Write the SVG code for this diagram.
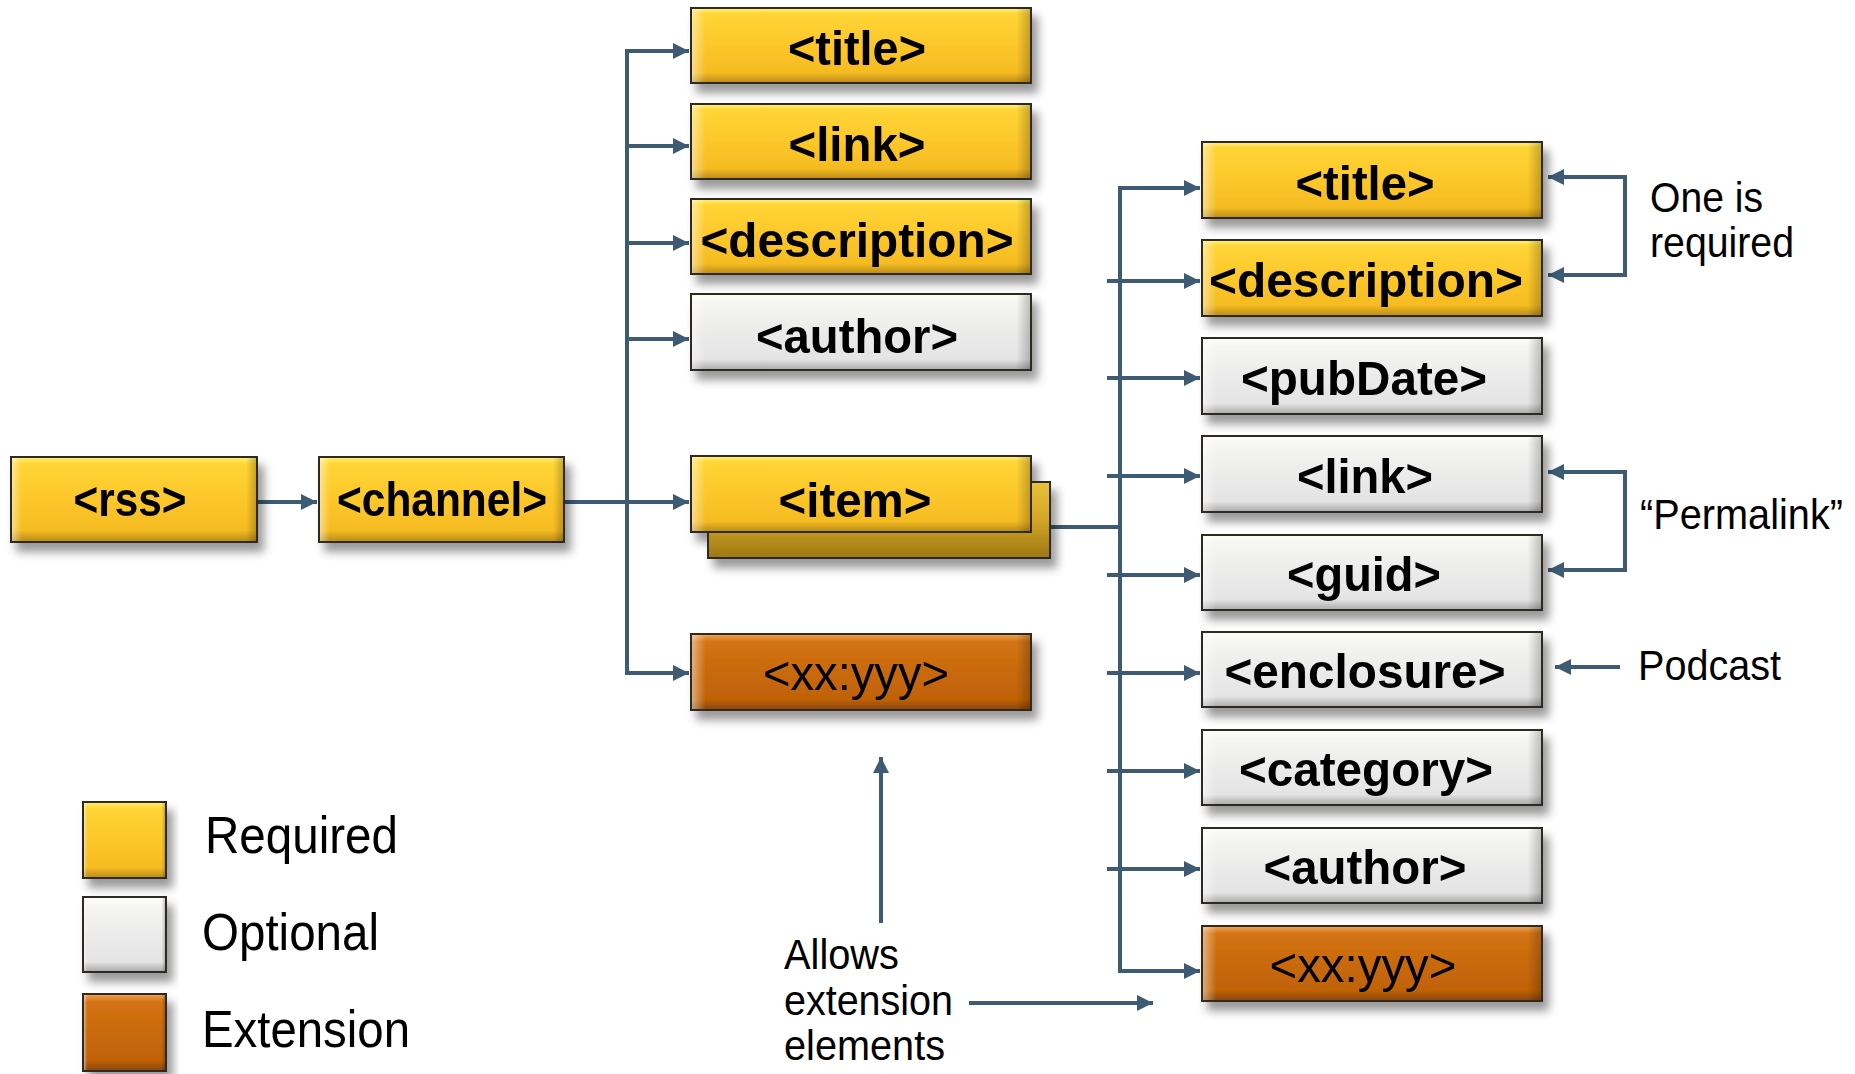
<svg xmlns="http://www.w3.org/2000/svg" width="1855" height="1074" viewBox="0 0 1855 1074">
<defs>
<linearGradient id="gY" x1="0" y1="0" x2="0" y2="1">
<stop offset="0" stop-color="#FFF27A"/><stop offset="0.08" stop-color="#FFD535"/><stop offset="0.5" stop-color="#FCC72A"/><stop offset="0.86" stop-color="#F5BC22"/><stop offset="1" stop-color="#B88A18"/>
</linearGradient>
<linearGradient id="gYb" x1="0" y1="0" x2="0" y2="1">
<stop offset="0" stop-color="#E8C23A"/><stop offset="0.5" stop-color="#D4A526"/><stop offset="1" stop-color="#9C7814"/>
</linearGradient>
<linearGradient id="gG" x1="0" y1="0" x2="0" y2="1">
<stop offset="0" stop-color="#FFFFFA"/><stop offset="0.1" stop-color="#F6F6F2"/><stop offset="0.5" stop-color="#EBEBEB"/><stop offset="0.86" stop-color="#E4E4E4"/><stop offset="1" stop-color="#A8A8A8"/>
</linearGradient>
<linearGradient id="gO" x1="0" y1="0" x2="0" y2="1">
<stop offset="0" stop-color="#F3A65A"/><stop offset="0.1" stop-color="#D47416"/><stop offset="0.5" stop-color="#C8690A"/><stop offset="0.86" stop-color="#C06206"/><stop offset="1" stop-color="#864508"/>
</linearGradient>
<linearGradient id="gSide" x1="0" y1="0" x2="1" y2="0">
<stop offset="0" stop-color="#FFFFFF" stop-opacity="0.45"/><stop offset="0.04" stop-color="#FFFFFF" stop-opacity="0"/><stop offset="0.96" stop-color="#000000" stop-opacity="0"/><stop offset="1" stop-color="#000000" stop-opacity="0.22"/>
</linearGradient>
<filter id="sh" x="-10%" y="-20%" width="125%" height="160%">
<feDropShadow dx="6" dy="9" stdDeviation="5" flood-color="#000" flood-opacity="0.4"/>
</filter>
<marker id="ah" markerUnits="userSpaceOnUse" markerWidth="16" markerHeight="16" refX="16" refY="8" orient="auto">
<path d="M0,0 L16,8 L0,16 z" fill="#3E5B74"/>
</marker>
<style>
.box{stroke:#2E2A22;stroke-width:2}
.req{fill:url(#gY)}
.opt{fill:url(#gG)}
.ext{fill:url(#gO)}
.side{fill:url(#gSide);stroke:none}
.lbl{font-family:"Liberation Sans",Arial,sans-serif;font-weight:bold;font-size:48px;fill:#000;text-anchor:middle}
.lblx{font-family:"Liberation Sans",Arial,sans-serif;font-weight:normal;font-size:48px;fill:#000;text-anchor:middle}
.ann{font-family:"Liberation Sans",Arial,sans-serif;font-size:42px;fill:#000}
.leg{font-family:"Liberation Sans",Arial,sans-serif;font-size:52px;fill:#000}
.ln{fill:none;stroke:#3E5B74;stroke-width:4}
.ar{fill:none;stroke:#3E5B74;stroke-width:4;marker-end:url(#ah)}
</style>
</defs>
<rect width="1855" height="1074" fill="#FFFFFF"/>

<g id="connectors">
<path class="ar" d="M257,502 H317"/>
<path class="ln" d="M564,502 H627"/>
<path class="ln" d="M627,51 V673"/>
<path class="ar" d="M625,51 H689"/>
<path class="ar" d="M627,146 H689"/>
<path class="ar" d="M627,243 H689"/>
<path class="ar" d="M627,339 H689"/>
<path class="ar" d="M627,502 H689"/>
<path class="ar" d="M625,673 H689"/>
<path class="ln" d="M1050,527 H1120"/>
<path class="ln" d="M1120,188 V971"/>
<path class="ar" d="M1118,188 H1200"/>
<path class="ar" d="M1107,281 H1200"/>
<path class="ar" d="M1107,378 H1200"/>
<path class="ar" d="M1107,476 H1200"/>
<path class="ar" d="M1107,575 H1200"/>
<path class="ar" d="M1107,673 H1200"/>
<path class="ar" d="M1107,771 H1200"/>
<path class="ar" d="M1107,869 H1200"/>
<path class="ar" d="M1118,971 H1200"/>
<path class="ln" d="M1625,175 V277"/>
<path class="ar" d="M1627,177 H1548"/>
<path class="ar" d="M1627,275 H1548"/>
<path class="ln" d="M1625,470 V572"/>
<path class="ar" d="M1627,472 H1548"/>
<path class="ar" d="M1627,570 H1548"/>
<path class="ar" d="M1620,667 H1555"/>
<path class="ar" d="M881,923 V757"/>
<path class="ar" d="M969,1003 H1153"/>
</g>

<g id="rss" filter="url(#sh)">
<rect class="box req" x="11" y="457" width="246" height="85"/><rect class="side" x="12" y="458" width="244" height="83"/>
<text class="lbl" x="130" y="516" textLength="113" lengthAdjust="spacingAndGlyphs">&lt;rss&gt;</text>
</g>
<g id="channel" filter="url(#sh)">
<rect class="box req" x="319" y="457" width="245" height="85"/><rect class="side" x="320" y="458" width="243" height="83"/>
<text class="lbl" x="442" y="516" textLength="210" lengthAdjust="spacingAndGlyphs">&lt;channel&gt;</text>
</g>

<g id="ch-title" filter="url(#sh)">
<rect class="box req" x="691" y="8" width="340" height="75"/><rect class="side" x="692" y="9" width="338" height="73"/>
<text class="lbl" x="857" y="65" textLength="138" lengthAdjust="spacingAndGlyphs">&lt;title&gt;</text>
</g>
<g id="ch-link" filter="url(#sh)">
<rect class="box req" x="691" y="104" width="340" height="75"/><rect class="side" x="692" y="105" width="338" height="73"/>
<text class="lbl" x="857" y="161" textLength="137" lengthAdjust="spacingAndGlyphs">&lt;link&gt;</text>
</g>
<g id="ch-description" filter="url(#sh)">
<rect class="box req" x="691" y="199" width="340" height="75"/><rect class="side" x="692" y="200" width="338" height="73"/>
<text class="lbl" x="857" y="257" textLength="313" lengthAdjust="spacingAndGlyphs">&lt;description&gt;</text>
</g>
<g id="ch-author" filter="url(#sh)">
<rect class="box opt" x="691" y="294" width="340" height="76"/><rect class="side" x="692" y="295" width="338" height="74"/>
<text class="lbl" x="857" y="353" textLength="202" lengthAdjust="spacingAndGlyphs">&lt;author&gt;</text>
</g>
<g id="ch-item" filter="url(#sh)">
<rect class="box" fill="url(#gYb)" x="708" y="482" width="342" height="76"/>
<rect class="box req" x="691" y="456" width="340" height="76"/><rect class="side" x="692" y="457" width="338" height="74"/>
<text class="lbl" x="855" y="517" textLength="153" lengthAdjust="spacingAndGlyphs">&lt;item&gt;</text>
</g>
<g id="ch-ext" filter="url(#sh)">
<rect class="box ext" x="691" y="634" width="340" height="76"/><rect class="side" x="692" y="635" width="338" height="74"/>
<text class="lblx" x="856" y="690" textLength="186" lengthAdjust="spacingAndGlyphs">&lt;xx:yyy&gt;</text>
</g>

<g id="it-title" filter="url(#sh)">
<rect class="box req" x="1202" y="142" width="340" height="76"/><rect class="side" x="1203" y="143" width="338" height="74"/>
<text class="lbl" x="1365" y="200" textLength="139" lengthAdjust="spacingAndGlyphs">&lt;title&gt;</text>
</g>
<g id="it-description" filter="url(#sh)">
<rect class="box req" x="1202" y="240" width="340" height="76"/><rect class="side" x="1203" y="241" width="338" height="74"/>
<text class="lbl" x="1366" y="297" textLength="314" lengthAdjust="spacingAndGlyphs">&lt;description&gt;</text>
</g>
<g id="it-pubDate" filter="url(#sh)">
<rect class="box opt" x="1202" y="338" width="340" height="76"/><rect class="side" x="1203" y="339" width="338" height="74"/>
<text class="lbl" x="1364" y="395" textLength="246" lengthAdjust="spacingAndGlyphs">&lt;pubDate&gt;</text>
</g>
<g id="it-link" filter="url(#sh)">
<rect class="box opt" x="1202" y="436" width="340" height="76"/><rect class="side" x="1203" y="437" width="338" height="74"/>
<text class="lbl" x="1365" y="493" textLength="136" lengthAdjust="spacingAndGlyphs">&lt;link&gt;</text>
</g>
<g id="it-guid" filter="url(#sh)">
<rect class="box opt" x="1202" y="535" width="340" height="75"/><rect class="side" x="1203" y="536" width="338" height="73"/>
<text class="lbl" x="1364" y="591" textLength="154" lengthAdjust="spacingAndGlyphs">&lt;guid&gt;</text>
</g>
<g id="it-enclosure" filter="url(#sh)">
<rect class="box opt" x="1202" y="632" width="340" height="75"/><rect class="side" x="1203" y="633" width="338" height="73"/>
<text class="lbl" x="1365" y="688" textLength="281" lengthAdjust="spacingAndGlyphs">&lt;enclosure&gt;</text>
</g>
<g id="it-category" filter="url(#sh)">
<rect class="box opt" x="1202" y="730" width="340" height="75"/><rect class="side" x="1203" y="731" width="338" height="73"/>
<text class="lbl" x="1366" y="786" textLength="254" lengthAdjust="spacingAndGlyphs">&lt;category&gt;</text>
</g>
<g id="it-author" filter="url(#sh)">
<rect class="box opt" x="1202" y="828" width="340" height="75"/><rect class="side" x="1203" y="829" width="338" height="73"/>
<text class="lbl" x="1365" y="884" textLength="203" lengthAdjust="spacingAndGlyphs">&lt;author&gt;</text>
</g>
<g id="it-ext" filter="url(#sh)">
<rect class="box ext" x="1202" y="926" width="340" height="75"/><rect class="side" x="1203" y="927" width="338" height="73"/>
<text class="lblx" x="1363" y="982" textLength="187" lengthAdjust="spacingAndGlyphs">&lt;xx:yyy&gt;</text>
</g>

<g id="notes">
<text class="ann" x="1650" y="212" textLength="113" lengthAdjust="spacingAndGlyphs">One is</text>
<text class="ann" x="1650" y="257" textLength="144" lengthAdjust="spacingAndGlyphs">required</text>
<text class="ann" x="1640" y="529" textLength="203" lengthAdjust="spacingAndGlyphs">“Permalink”</text>
<text class="ann" x="1638" y="680" textLength="143" lengthAdjust="spacingAndGlyphs">Podcast</text>
<text class="ann" x="784" y="969" textLength="115" lengthAdjust="spacingAndGlyphs">Allows</text>
<text class="ann" x="784" y="1015" textLength="169" lengthAdjust="spacingAndGlyphs">extension</text>
<text class="ann" x="784" y="1060" textLength="161" lengthAdjust="spacingAndGlyphs">elements</text>
</g>

<g id="legend">
<g id="legend-required" filter="url(#sh)"><rect class="box req" x="83" y="802" width="83" height="76"/><rect class="side" x="84" y="803" width="81" height="74"/></g>
<g id="legend-optional" filter="url(#sh)"><rect class="box opt" x="83" y="897" width="83" height="75"/><rect class="side" x="84" y="898" width="81" height="73"/></g>
<g id="legend-extension" filter="url(#sh)"><rect class="box ext" x="83" y="994" width="83" height="77"/><rect class="side" x="84" y="995" width="81" height="75"/></g>
<text class="leg" x="205" y="853" textLength="193" lengthAdjust="spacingAndGlyphs">Required</text>
<text class="leg" x="202" y="950" textLength="177" lengthAdjust="spacingAndGlyphs">Optional</text>
<text class="leg" x="202" y="1047" textLength="208" lengthAdjust="spacingAndGlyphs">Extension</text>
</g>
</svg>
